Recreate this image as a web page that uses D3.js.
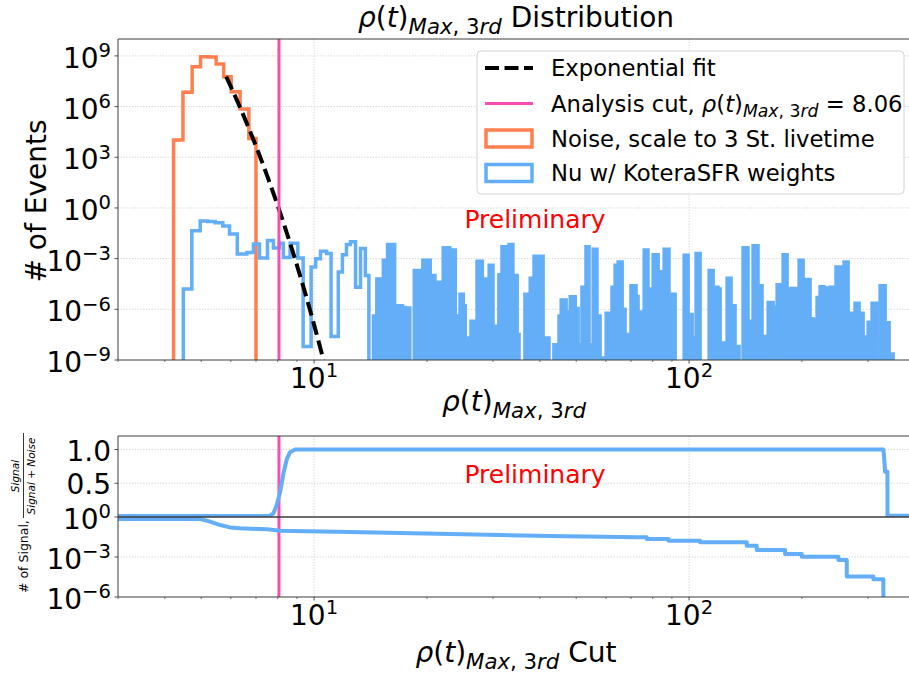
<!DOCTYPE html>
<html>
<head>
<meta charset="utf-8">
<script src="https://cdn.jsdelivr.net/npm/d3@7"></script>
<style>
  body { margin: 0; background: #fff; }
  svg { display: block; }
  text { font-family: "DejaVu Sans", sans-serif; white-space: pre; }
</style>
</head>
<body>
<svg id="chart" width="909" height="675"></svg>
<script>
// ---------------- data ----------------
// Noise histogram (scaled to 3-station livetime): bin edges in rho and counts
const noiseEdges  = [4.22, 4.47, 4.73, 4.98, 5.23, 5.48, 5.74, 6.01, 6.35, 6.70, 7.00];
const noiseCounts = [1.05e4, 7.1e6, 2.3e8, 8.9e8, 8.5e8, 3.3e8, 5.9e7, 7.6e6, 7.2e5, 1.3e4];

// Neutrino histogram (KoteraSFR weights), low-rho part
const nuEdges  = [4.48, 4.72, 4.97, 5.20, 5.45, 5.71, 5.95, 6.24, 6.62, 6.89, 7.15,
                  7.51, 7.79, 8.08, 8.28, 8.63, 9.05, 9.35, 9.82, 10.1, 10.4,
                  10.8, 11.1, 11.6, 11.9, 12.2, 12.5, 12.9, 13.3, 13.7, 14.0];
const nuCounts = [1.6e-5, 4.4e-2, 0.17, 0.16, 0.135, 8.5e-2, 2.9e-2, 1.9e-3, 2.3e-3, 7.4e-3,
                  1.1e-3, 1.17e-2, 4.2e-3, 8.1e-3, 1.15e-3, 8.1e-3, 1.1e-3, 6.3e-9, 3.2e-4, 1.0e-3,
                  2.75e-3, 2.0e-3, 2.5e-8, 1.6e-4, 1.7e-3, 6.9e-3, 1.0e-2, 2.0e-5, 4.0e-3, 1.0e-4];

// Neutrino histogram, sparse high-rho tail (0 = empty bin)
const nuTailEdges = [14.4, 14.7, 15.3, 15.7, 16.4, 17.2, 17.5, 18.0, 18.5, 19.2,
                     19.5, 20.4, 21.0, 21.7, 22.1, 23.0, 23.8, 24.1, 24.5, 25.0,
                     25.3, 26.2, 26.9, 27.2, 28.1, 28.9, 29.3, 30.0, 31.1, 31.7,
                     32.5, 33.1, 33.9, 34.8, 35.2, 36.5, 37.7, 38.6, 40.8, 42.3,
                     43.6, 45.0, 45.6, 47.0, 48.2, 49.7, 50.6, 51.8, 53.1, 54.1,
                     55.5, 56.8, 57.9, 58.6, 60.1, 61.9, 62.3, 63.5, 64.7, 66.3,
                     67.5, 68.8, 70.0, 72.2, 73.1, 74.9, 75.9, 77.7, 80.2, 82.7,
                     83.7, 85.8, 88.4, 89.5, 91.8, 97.0, 99.4, 101.9, 104.4, 107.0,
                     113.1, 115.9, 119.5, 121.0, 124.7, 126.3, 129.4, 132.6, 135.9, 139.3,
                     143.6, 148.1, 152.7, 156.5, 161.4, 162.5, 167.5, 171.7, 177.0, 178.1,
                     182.5, 187.1, 196.5, 201.4, 210.2, 214.1, 219.4, 223.5, 229.0, 237.6,
                     246.5, 254.3, 259.0, 265.5, 272.0, 277.1, 284.0, 291.1, 300.2, 307.6,
                     317.2, 323.1, 333.2, 341.5, 350.0];
const nuTailCounts = [4.0e-7, 6.3e-5, 7.9e-4, 6.9e-3, 1.6e-6, 1.3e-6, 1.2e-6, 0, 2.0e-4, 1.6e-5,
                      7.9e-4, 1.0e-4, 4.0e-5, 1.6e-8, 4.4e-3, 3.2e-3, 2.5e-8, 4.0e-7, 7.9e-6, 1.6e-6,
                      2.0e-8, 2.0e-7, 2.5e-9, 6.9e-4, 6.3e-5, 1.0e-7, 4.0e-4, 1.0e-7, 1.1e-4, 5.0e-3,
                      4.0e-4, 6.9e-3, 1.0e-4, 3.2e-8, 0, 7.9e-6, 6.9e-5, 1.4e-3, 2.0e-8, 0,
                      7.9e-9, 4.0e-7, 3.6e-6, 6.9e-7, 5.5e-6, 1.1e-6, 7.9e-9, 2.0e-5, 5.0e-3, 7.9e-9,
                      3.6e-3, 4.0e-7, 0, 1.3e-9, 5.8e-7, 1.3e-8, 2.0e-5, 4.0e-4, 6.3e-4, 1.0e-6,
                      3.2e-8, 0, 2.5e-5, 5.8e-6, 6.9e-7, 5.0e-9, 3.2e-3, 1.6e-5, 1.7e-3, 1.6e-6,
                      1.7e-4, 3.6e-3, 6.3e-9, 7.9e-6, 0, 1.6e-3, 5.0e-7, 2.0e-8, 2.0e-3, 0,
                      2.0e-4, 2.0e-5, 1.6e-5, 1.0e-8, 0, 6.9e-5, 1.6e-6, 6.3e-9, 0, 4.4e-3,
                      2.0e-7, 5.8e-3, 2.5e-5, 2.5e-8, 0, 2.5e-6, 1.3e-6, 2.8e-5, 0, 1.7e-3,
                      1.6e-5, 1.7e-5, 7.9e-4, 5.8e-5, 2.8e-7, 2.3e-7, 5.0e-6, 2.2e-5, 1.8e-5, 2.0e-5,
                      3.2e-4, 7.9e-5, 6.3e-4, 5.8e-7, 7.9e-8, 2.3e-6, 5.8e-7, 2.3e-8, 1.7e-7, 2.3e-6,
                      0, 2.5e-5, 1.6e-7, 2.3e-9];

// Exponential fit to the noise tail: N(rho) = A * exp(-rho / tau)
const fitAmplitude = 2.04e28;
const fitTau = 0.1233;
const fitRange = [5.83, 11.5];

// Analysis cut
const cutValue = 8.06;

// Signal / (Signal + Noise) versus cut value
const purityRho   = [3.0, 7.5, 7.63, 7.79, 7.95, 8.12, 8.28, 8.46, 8.63, 8.90, 329.6, 331.0, 333.2, 338.0, 338.0, 393];
const purityValue = [0.015, 0.015, 0.02, 0.054, 0.18, 0.37, 0.64, 0.86, 0.96, 1.0, 1.0, 0.9, 0.67, 0.67, 0.02, 0.02];

// Number of signal events surviving the cut
const signalRho   = [3.0, 4.97, 5.28, 5.62, 5.97, 6.35, 7.48, 8.12, 12.47, 16.96, 23.05, 31.33, 42.6, 72.9,
                     77.1, 77.1, 88.1, 88.1, 107.0, 107.0, 142.5, 142.5, 151.5, 151.5, 180.3, 180.3,
                     199.8, 199.8, 250.1, 250.1, 263.3, 263.3, 310.0, 310.0, 329.6, 329.6];
const signalValue = [0.71, 0.71, 0.45, 0.25, 0.166, 0.141, 0.12, 0.093, 0.076, 0.063, 0.052, 0.045, 0.037, 0.030,
                     0.030, 0.0224, 0.0224, 0.0166, 0.0166, 0.0126, 0.0126, 0.0071, 0.0071, 0.0033, 0.0033, 0.00166,
                     0.00166, 0.00105, 0.00105, 0.0006, 0.0006, 3.4e-5, 3.4e-5, 2.1e-5, 2.1e-5, 1e-9];

// Axis ticks
const xMajorTicks = [10, 100];
const xMinorTicks = [3, 4, 5, 6, 7, 8, 9, 20, 30, 40, 50, 60, 70, 80, 90, 200, 300];
const topYExponents = [9, 6, 3, 0, -3, -6, -9];
const purityTicks = [1.0, 0.5];
const signalExponents = [0, -3, -6];

// Legend
const legendLabels = ["Exponential fit", "Analysis cut", "Noise, scale to 3 St. livetime", "Nu w/ KoteraSFR weights"];

// ---------------- styles & layout ----------------
const C = {
  noise: "#ff7f4f",
  nu: "#63aef7",
  cut: "#fa4cb6",
  grid: "#c4c4c4",
  spine: "#3c3c3c",
  prelim: "#ff0000"
};
const left = 118, right = 912;
const topAx = { top: 39, bottom: 360 };
const botAx = { top: 436, mid: 517, bottom: 597 };

const svg = d3.select("#chart");

const x = d3.scaleLog().domain([3, 393]).range([left, right]);
const yTop = d3.scaleLog().domain([1e-9, 1e10]).range([topAx.bottom, topAx.top]);
const yPur = d3.scaleLinear().domain([0, 1.2]).range([botAx.mid, botAx.top]);
const ySig = d3.scaleLog().domain([1e-6, 1]).range([botAx.bottom, botAx.mid]);

const FLOOR = 1e-14;   // empty bins drop below the axis

// clip regions
const defs = svg.append("defs");
function clip(id, y0, y1) {
  defs.append("clipPath").attr("id", id).append("rect")
    .attr("x", left).attr("y", y0).attr("width", right - left).attr("height", y1 - y0);
  return `url(#${id})`;
}
const clipTop = clip("clipTop", topAx.top, topAx.bottom);
const clipPur = clip("clipPur", botAx.top, botAx.mid);
const clipSig = clip("clipSig", botAx.mid, botAx.bottom);

// rich text with italic / subscript / superscript pieces
function richText(parent, px, py, size, anchor, parts, fill) {
  const t = parent.append("text").attr("x", px).attr("y", py)
    .attr("font-size", size).attr("text-anchor", anchor).attr("fill", fill || "#000");
  let shift = 0;
  parts.forEach(p => {
    const target = p.sub ? size * 0.24 : (p.sup ? -size * 0.38 : 0);
    const ts = t.append("tspan").text(p.t);
    if (target - shift !== 0) ts.attr("dy", target - shift);
    shift = target;
    if (p.sub) ts.attr("font-size", size * 0.76);
    if (p.sup) ts.attr("font-size", size * 0.7);
    if (p.i) ts.attr("font-style", "italic");
  });
  return t;
}
const rhoParts = [
  { t: "\u03c1", i: 1 }, { t: "(" }, { t: "t", i: 1 }, { t: ")" },
  { t: "Max", i: 1, sub: 1 }, { t: ", 3", sub: 1 }, { t: "rd", i: 1, sub: 1 }
];
const pow10 = e => [{ t: "10" }, { t: e < 0 ? "\u2212" + (-e) : String(e), sup: 1 }];

// ---------------- grids ----------------
const grid = svg.append("g").attr("stroke", C.grid).attr("stroke-width", 0.8)
  .attr("stroke-dasharray", "1.2,1.6").attr("fill", "none");
topYExponents.filter(e => e > -9).forEach(e => {
  grid.append("line").attr("x1", left).attr("x2", right)
    .attr("y1", yTop(Math.pow(10, e))).attr("y2", yTop(Math.pow(10, e)));
});
xMajorTicks.forEach(v => {
  grid.append("line").attr("x1", x(v)).attr("x2", x(v)).attr("y1", topAx.top).attr("y2", topAx.bottom);
  grid.append("line").attr("x1", x(v)).attr("x2", x(v)).attr("y1", botAx.top).attr("y2", botAx.bottom);
});
purityTicks.forEach(v => {
  grid.append("line").attr("x1", left).attr("x2", right).attr("y1", yPur(v)).attr("y2", yPur(v));
});
signalExponents.filter(e => e < 0 && e > -6).forEach(e => {
  grid.append("line").attr("x1", left).attr("x2", right)
    .attr("y1", ySig(Math.pow(10, e))).attr("y2", ySig(Math.pow(10, e)));
});

// ---------------- histograms ----------------
const stepLine = d3.line().x(d => x(d[0])).y(d => yTop(d[1])).curve(d3.curveStepAfter);

// outline points for a run of contiguous bins
function runPoints(edges, counts, i0, i1) {
  const pts = [[edges[i0], FLOOR]];
  for (let i = i0; i <= i1; i++) pts.push([edges[i], counts[i]]);
  pts.push([edges[i1 + 1], counts[i1]]);
  pts.push([edges[i1 + 1], FLOOR]);
  return pts;
}

const hist = svg.append("g").attr("clip-path", clipTop);

hist.append("path")
  .attr("d", stepLine(runPoints(noiseEdges, noiseCounts, 0, noiseCounts.length - 1)))
  .attr("fill", "none").attr("stroke", C.noise).attr("stroke-width", 3.5)
  .attr("stroke-linejoin", "miter");

hist.append("path")
  .attr("d", stepLine(runPoints(nuEdges, nuCounts, 0, nuCounts.length - 1)))
  .attr("fill", "none").attr("stroke", C.nu).attr("stroke-width", 3.5);

// sparse tail: every run of occupied bins
let start = -1;
for (let i = 0; i <= nuTailCounts.length; i++) {
  const filled = i < nuTailCounts.length && nuTailCounts[i] > 0;
  if (filled && start < 0) start = i;
  if (!filled && start >= 0) {
    hist.append("path")
      .attr("d", stepLine(runPoints(nuTailEdges, nuTailCounts, start, i - 1)))
      .attr("fill", C.nu).attr("stroke", C.nu).attr("stroke-width", 3.5);
    start = -1;
  }
}

// cut line (both panels)
svg.append("line").attr("x1", x(cutValue)).attr("x2", x(cutValue))
  .attr("y1", topAx.top).attr("y2", topAx.bottom)
  .attr("stroke", C.cut).attr("stroke-width", 3);
svg.append("line").attr("x1", x(cutValue)).attr("x2", x(cutValue))
  .attr("y1", botAx.top).attr("y2", botAx.bottom)
  .attr("stroke", C.cut).attr("stroke-width", 3);

// exponential fit
const fitPts = d3.range(fitRange[0], fitRange[1], 0.02).map(r => [r, fitAmplitude * Math.exp(-r / fitTau)]);
hist.append("path")
  .attr("d", d3.line().x(d => x(d[0])).y(d => yTop(d[1]))(fitPts))
  .attr("fill", "none").attr("stroke", "#000").attr("stroke-width", 4)
  .attr("stroke-dasharray", "14,6");

// ---------------- lower panel curves ----------------
const purLine = d3.line().x(d => x(d[0])).y(d => yPur(d[1]));
svg.append("path").attr("clip-path", clipPur)
  .attr("d", purLine(purityRho.map((r, i) => [r, purityValue[i]])))
  .attr("fill", "none").attr("stroke", C.nu).attr("stroke-width", 4).attr("stroke-linejoin", "round");

const sigLine = d3.line().x(d => x(d[0])).y(d => ySig(d[1]));
svg.append("path").attr("clip-path", clipSig)
  .attr("d", sigLine(signalRho.map((r, i) => [r, signalValue[i]])))
  .attr("fill", "none").attr("stroke", C.nu).attr("stroke-width", 4).attr("stroke-linejoin", "round");

// ---------------- spines & ticks ----------------
const ax = svg.append("g").attr("stroke", C.spine).attr("fill", "none");
// top panel
ax.append("line").attr("x1", left).attr("x2", right).attr("y1", topAx.top).attr("y2", topAx.top).attr("stroke-width", 1);
ax.append("line").attr("x1", left).attr("x2", right).attr("y1", topAx.bottom).attr("y2", topAx.bottom).attr("stroke-width", 1);
ax.append("line").attr("x1", left).attr("x2", left).attr("y1", topAx.top).attr("y2", topAx.bottom).attr("stroke-width", 1);
// bottom panel
ax.append("line").attr("x1", left).attr("x2", right).attr("y1", botAx.top).attr("y2", botAx.top).attr("stroke-width", 1);
ax.append("line").attr("x1", left).attr("x2", right).attr("y1", botAx.mid).attr("y2", botAx.mid).attr("stroke-width", 1.6);
ax.append("line").attr("x1", left).attr("x2", right).attr("y1", botAx.bottom).attr("y2", botAx.bottom).attr("stroke-width", 1);
ax.append("line").attr("x1", left).attr("x2", left).attr("y1", botAx.top).attr("y2", botAx.bottom).attr("stroke-width", 1);

[topAx.bottom, botAx.bottom].forEach(yb => {
  xMajorTicks.forEach(v => ax.append("line").attr("x1", x(v)).attr("x2", x(v)).attr("y1", yb).attr("y2", yb + 3.5).attr("stroke-width", 0.9));
  xMinorTicks.forEach(v => ax.append("line").attr("x1", x(v)).attr("x2", x(v)).attr("y1", yb).attr("y2", yb + 2).attr("stroke-width", 0.7));
});
topYExponents.forEach(e => {
  const yy = yTop(Math.pow(10, e));
  ax.append("line").attr("x1", left - 3.5).attr("x2", left).attr("y1", yy).attr("y2", yy).attr("stroke-width", 0.9);
});
purityTicks.forEach(v => ax.append("line").attr("x1", left - 3.5).attr("x2", left).attr("y1", yPur(v)).attr("y2", yPur(v)).attr("stroke-width", 0.9));
signalExponents.forEach(e => {
  const yy = ySig(Math.pow(10, e));
  ax.append("line").attr("x1", left - 3.5).attr("x2", left).attr("y1", yy).attr("y2", yy).attr("stroke-width", 0.9);
});

// ---------------- tick labels ----------------
const TICK = 28;
const labels = svg.append("g");
topYExponents.forEach(e => richText(labels, 111, yTop(Math.pow(10, e)) + 12, TICK, "end", pow10(e)));
xMajorTicks.forEach(v => {
  const e = Math.round(Math.log10(v));
  richText(labels, x(v), 388, TICK, "middle", pow10(e));
  richText(labels, x(v), 625, TICK, "middle", pow10(e));
});
purityTicks.forEach(v => labels.append("text").attr("x", 111).attr("y", yPur(v) + 11)
  .attr("font-size", TICK).attr("text-anchor", "end").text(d3.format(".1f")(v)));
signalExponents.forEach(e => richText(labels, 111, ySig(Math.pow(10, e)) + 11.5, TICK, "end", pow10(e)));

// ---------------- titles ----------------
richText(svg, 516, 27, 28, "middle", rhoParts.concat([{ t: " Distribution" }]));
richText(svg, 514, 411, 28, "middle", rhoParts);
richText(svg, 516, 662, 28, "middle", rhoParts.concat([{ t: " Cut" }]));

svg.append("text").attr("transform", "translate(46,201) rotate(-90)")
  .attr("font-size", 28).attr("text-anchor", "middle").text("# of Events");

// lower-panel y label: "# of Signal, Signal / (Signal + Noise)"
const yl = svg.append("g").attr("transform", "translate(28,513) rotate(-90)");
yl.append("text").attr("x", -80).attr("y", 0).attr("font-size", 12.5).text("# of Signal,");
yl.append("text").attr("x", 37).attr("y", -9.5).attr("font-size", 10.5).attr("font-style", "italic")
  .attr("text-anchor", "middle").text("Signal");
yl.append("line").attr("x1", -5).attr("x2", 80).attr("y1", -4.5).attr("y2", -4.5)
  .attr("stroke", "#000").attr("stroke-width", 0.8);
yl.append("text").attr("x", 37).attr("y", 6.5).attr("font-size", 10.5).attr("font-style", "italic")
  .attr("text-anchor", "middle").text("Signal + Noise");

// preliminary marks
svg.append("text").attr("x", 535).attr("y", 228).attr("font-size", 25).attr("text-anchor", "middle")
  .attr("fill", C.prelim).text("Preliminary");
svg.append("text").attr("x", 535).attr("y", 483).attr("font-size", 25).attr("text-anchor", "middle")
  .attr("fill", C.prelim).text("Preliminary");

// ---------------- legend ----------------
const lg = svg.append("g");
lg.append("rect").attr("x", 477).attr("y", 51).attr("width", 427).attr("height", 143).attr("rx", 4)
  .attr("fill", "#fff").attr("fill-opacity", 0.85).attr("stroke", "#d4d4d4").attr("stroke-width", 1);
const rowY = [68, 103.5, 138.5, 173];
lg.append("line").attr("x1", 485).attr("x2", 533).attr("y1", rowY[0]).attr("y2", rowY[0])
  .attr("stroke", "#000").attr("stroke-width", 4).attr("stroke-dasharray", "14,5.5");
lg.append("line").attr("x1", 485).attr("x2", 533).attr("y1", rowY[1]).attr("y2", rowY[1])
  .attr("stroke", C.cut).attr("stroke-width", 3);
lg.append("rect").attr("x", 486).attr("y", rowY[2] - 8.5).attr("width", 46).attr("height", 17)
  .attr("fill", "none").attr("stroke", C.noise).attr("stroke-width", 3.5);
lg.append("rect").attr("x", 486).attr("y", rowY[3] - 8.5).attr("width", 46).attr("height", 17)
  .attr("fill", "none").attr("stroke", C.nu).attr("stroke-width", 3.5);
const LF = 22.7;
richText(lg, 551, rowY[0] + 8, LF, "start", [{ t: legendLabels[0] }]);
richText(lg, 551, rowY[1] + 8, LF, "start",
  [{ t: legendLabels[1] + ", " }].concat(rhoParts, [{ t: " = " + cutValue.toFixed(2) }]));
richText(lg, 551, rowY[2] + 8, LF, "start", [{ t: legendLabels[2] }]);
richText(lg, 551, rowY[3] + 8, LF, "start", [{ t: legendLabels[3] }]);
</script>
</body>
</html>
